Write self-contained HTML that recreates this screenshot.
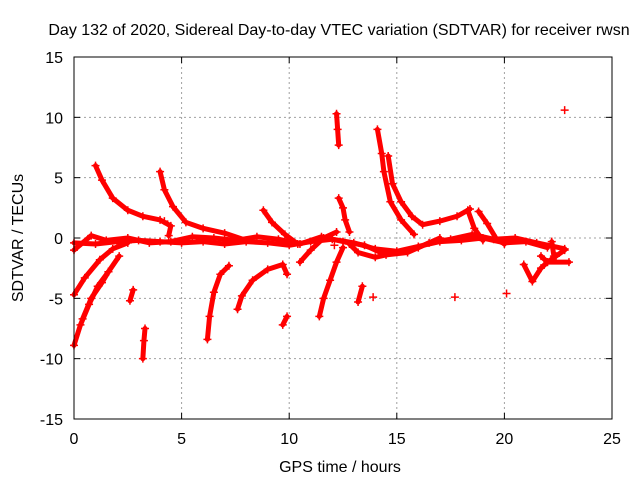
<!DOCTYPE html>
<html><head><meta charset="utf-8"><style>
body{margin:0;background:#fff}
svg{display:block;font-family:"Liberation Sans",sans-serif;font-size:16px}
</style></head><body>
<svg id="chart" width="640" height="480" viewBox="0 0 640 480">
<text x="339" y="35" text-anchor="middle">Day 132 of 2020, Sidereal Day-to-day VTEC variation (SDTVAR) for receiver rwsn</text>
<g id="grid"></g><g id="marks"></g><g id="axes"></g>
<text x="340" y="472" text-anchor="middle">GPS time / hours</text>
<text transform="translate(23,238) rotate(-90)" text-anchor="middle">SDTVAR / TECUs</text>
</svg>
<script>
const xTicks=[0,5,10,15,20,25];
const yTicks=[-15,-10,-5,0,5,10,15];
const trackMainA=[[0,-0.4],[1,-0.5],[2,-0.3],[3,-0.2],[4,-0.3],[5,-0.4],[6,-0.3],[7,-0.5],[8,-0.3],[9,-0.4],[10,-0.6],[11,-0.3],[12,-0.1],[13,-0.4],[14,-0.9],[15,-1.1],[16,-0.7],[17,-0.3],[18,-0.2],[19,0],[20,-0.4],[21,-0.3],[22,-0.8]];
const trackMainB=[[0,-1],[0.8,0.2],[1.5,-0.2],[2.5,0],[3.5,-0.4],[4.5,-0.3],[5.5,0.1],[6.5,0],[7.5,-0.2],[8.5,0.1],[9.5,-0.1],[10.5,-0.5],[11.5,0.1],[12.5,-0.3],[13.5,-0.6],[14.5,-1.4],[15.5,-1.2],[16.5,-0.4],[17.5,-0.1],[18.5,0.3],[19.5,-0.1],[20.5,0],[21.5,-0.4],[22.8,-0.9]];
const trackMainC=[[12.8,-0.5],[13.2,-1.2],[14,-1.6],[15,-1.2],[16,-0.8],[17,0]];
const track1=[[1,6],[1.3,4.8],[1.8,3.3],[2.5,2.3],[3.2,1.8],[4,1.5],[4.5,1],[4.4,0.2]];
const track2=[[4,5.5],[4.2,4],[4.6,2.6],[5.2,1.3],[6,0.8],[7,0.4],[8,-0.2]];
const track3=[[12.2,10.3],[12.25,9],[12.3,7.7]];
const track4=[[14.1,9],[14.3,7],[14.4,5.5],[14.7,3],[15.2,1.5],[15.8,0.3]];
const track5=[[14.6,6.8],[14.8,4.5],[15.2,3],[15.7,1.8],[16.2,1.1],[17,1.4],[17.8,1.8],[18.4,2.4]];
const track6=[[0,-8.9],[0.3,-7.2],[0.7,-5.5],[1.1,-4],[1.6,-2.8],[2.1,-1.5]];
const track7=[[0,-4.7],[0.5,-3.3],[1.2,-1.8],[1.8,-0.9],[2.5,-0.4]];
const track8=[[0.4,-6.7],[0.8,-5],[1.3,-3.7],[1.6,-2.8]];
const track9=[[2.6,-5.2],[2.75,-4.3]];
const track10=[[3.2,-10],[3.25,-8.5],[3.3,-7.5]];
const track11=[[6.2,-8.4],[6.3,-6.5],[6.5,-4.5],[6.8,-3],[7.2,-2.3]];
const track12=[[7.6,-5.9],[7.8,-4.8],[8.3,-3.5],[9,-2.6],[9.7,-2.2],[9.9,-3]];
const track13=[[8.8,2.3],[9.2,1.3],[9.8,0.3],[10.4,-0.5]];
const track14=[[9.7,-7.2],[9.9,-6.5]];
const track15=[[11.4,-6.5],[11.6,-5],[11.9,-3.5],[12.2,-2],[12.5,-0.8]];
const track16=[[13.2,-5.3],[13.4,-4]];
const track17=[[12.3,3.3],[12.5,2.5],[12.6,1.5],[12.8,0.5]];
const track18=[[10.5,-2],[11,-1],[11.6,0],[12.2,0.5]];
const track19=[[18.8,2.2],[19.2,1.2],[19.6,0],[20,-0.5]];
const track20=[[18.3,2.3],[18.6,0.8],[19,-0.2]];
const track21=[[20.9,-2.2],[21.3,-3.6],[21.7,-2.5],[22,-2],[22.4,-1.5],[22.8,-1]];
const track22=[[21.7,-1.5],[22,-2],[23,-2]];
const track23=[[22.2,-0.3],[22.3,-1.5]];
const singles=[[13.9,-4.9],[17.7,-4.9],[20.1,-4.6],[22.8,10.6],[12.1,-0.6],[4.2,1.4]];
const tracks=[trackMainA,trackMainB,trackMainC,track1,track2,track3,track4,track5,track6,track7,track8,track9,track10,track11,track12,track13,track14,track15,track16,track17,track18,track19,track20,track21,track22,track23];

const L=74,R=612,T=57,B=419;
const sx=v=>L+(v-0)/25*(R-L);
const sy=v=>B-(v+15)/30*(B-T);
const NS='http://www.w3.org/2000/svg';
function mk(tag,attrs,parent){const e=document.createElementNS(NS,tag);for(const k in attrs)e.setAttribute(k,attrs[k]);parent.appendChild(e);return e;}
const grid=document.getElementById('grid'),axes=document.getElementById('axes'),marks=document.getElementById('marks');
xTicks.forEach(t=>{const x=sx(t);
 if(t>0&&t<25){const g=mk('line',{x1:x,x2:x,y1:T,y2:B,stroke:'#a0a0a0','stroke-dasharray':'2,3'},grid);
 
 }
 mk('line',{x1:x,x2:x,y1:B,y2:B-6,stroke:'#000'},axes);mk('line',{x1:x,x2:x,y1:T,y2:T+6,stroke:'#000'},axes);
 const lb=mk('text',{x:x,y:B+25,'text-anchor':'middle'},axes);lb.textContent=t;
 
 });
yTicks.forEach(t=>{const y=sy(t);
 if(t>-15&&t<15){const g=mk('line',{x1:L,x2:R,y1:y,y2:y,stroke:'#a0a0a0','stroke-dasharray':'2,3'},grid);
 
 }
 mk('line',{x1:L,x2:L+6,y1:y,y2:y,stroke:'#000'},axes);mk('line',{x1:R,x2:R-6,y1:y,y2:y,stroke:'#000'},axes);
 const lb=mk('text',{x:L-11,y:y+6,'text-anchor':'end'},axes);lb.textContent=t;
 
 });
const fr=mk('rect',{x:L,y:T,width:R-L,height:B-T,fill:'none',stroke:'#000'},axes);


function plus(p){const x=sx(p[0]),y=sy(p[1]);const g=mk('path',{d:`M${x-4} ${y}H${x+4}M${x} ${y-4}V${y+4}`,stroke:'#f00','stroke-width':1.5},marks);
 
 }
tracks.forEach(tr=>{const pl=mk('polyline',{points:tr.map(p=>sx(p[0])+','+sy(p[1])).join(' '),fill:'none',stroke:'#f00','stroke-width':5,'stroke-linejoin':'round','stroke-linecap':'round'},marks);
 
 
 tr.forEach(plus);});
singles.forEach(plus);
</script>
</body></html>
